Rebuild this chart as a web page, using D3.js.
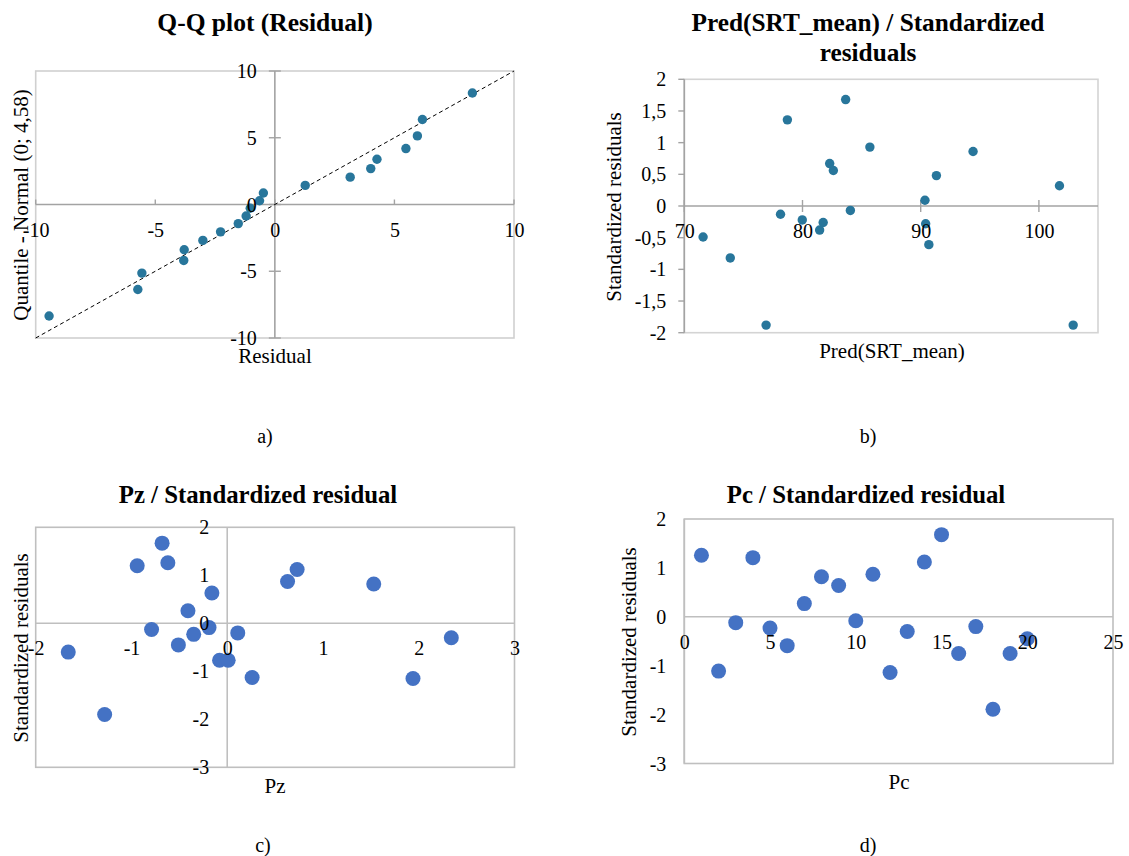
<!DOCTYPE html>
<html><head><meta charset="utf-8">
<script src="https://cdn.jsdelivr.net/npm/d3@7"></script>
<style>
body{margin:0;background:#fff}
</style>
</head><body>
<svg id="chart" width="1129" height="856" font-family="'Liberation Serif', 'Times New Roman', Times, serif"></svg>
<script>
// ---- Panel a: Q-Q plot ----
const qqResidual = [-9.44,-5.73,-5.56,-3.81,-3.79,-3.01,-2.27,-1.53,-1.20,-1.03,-0.64,-0.48,1.27,3.15,4.01,4.27,5.48,5.96,6.17,8.26];
const qqQuantile = [-8.35,-6.37,-5.14,-4.19,-3.39,-2.69,-2.05,-1.43,-0.86,-0.28,0.28,0.86,1.43,2.05,2.69,3.39,4.19,5.14,6.37,8.35];
const qqTicks = [-10,-5,0,5,10];
const qqLine = [-10,10];

// ---- Panel b: Pred(SRT_mean) / standardized residuals ----
const predSRT = [71.59,73.89,76.92,78.14,78.72,79.98,81.45,81.75,82.30,82.61,83.65,84.05,85.70,90.36,90.42,90.69,91.33,94.43,101.74,102.90];
const predStdRes = [-0.49,-0.82,-1.88,-0.13,1.36,-0.22,-0.38,-0.26,0.67,0.56,1.68,-0.07,0.93,0.09,-0.28,-0.61,0.48,0.86,0.32,-1.88];
const predXTicks = [70,80,90,100];
const predYTicks = [-2,-1.5,-1,-0.5,0,0.5,1,1.5,2];

// ---- Panel c: Pz / standardized residual ----
const pz = [-1.66,-1.28,-0.94,-0.79,-0.68,-0.62,-0.51,-0.41,-0.35,-0.19,-0.16,-0.08,0.01,0.11,0.26,0.63,0.73,1.53,1.94,2.34];
const pzStdRes = [-0.60,-1.90,1.20,-0.13,1.67,1.26,-0.45,0.26,-0.23,-0.09,0.63,-0.77,-0.77,-0.20,-1.13,0.87,1.12,0.82,-1.15,-0.30];
const pzTicks = [-2,-1,0,1,2,3];
const stdResTicks = [-3,-2,-1,0,1,2];

// ---- Panel d: Pc / standardized residual ----
const pc = [1,2,3,4,5,6,7,8,9,10,11,12,13,14,15,16,17,18,19,20];
const pcStdRes = [1.26,-1.11,-0.12,1.21,-0.23,-0.59,0.27,0.82,0.64,-0.08,0.87,-1.14,-0.30,1.12,1.68,-0.75,-0.20,-1.89,-0.75,-0.45];
const pcTicks = [0,5,10,15,20,25];

const FONT = "'Liberation Serif', 'Times New Roman', Times, serif";
const fmt = d => String(d).replace('.', ',');
const svg = d3.select("#chart");

const panels = [
  {xs:qqResidual, ys:qqQuantile, xt:qqTicks, yt:qqTicks, xd:[-10,10], yd:[-10,10],
   box:[35.7,514,71,338], frame:"#d0d0d0", axis:"#a3a3a3", yAxisAt:0,
   yTicks:[-6,6], xTicks:[-5,0], diag:true, r:4.7, color:"#28769b",
   title:["Q-Q plot (Residual)"], tx:265, ty:[31], tsize:25.5,
   xTitle:"Residual", xtx:275, xty:363, yTitle:"Quantile - Normal (0; 4,58)", ytx:28, yty:205,
   cap:"a)", cx:265, cy:443},
  {xs:predSRT, ys:predStdRes, xt:predXTicks, yt:predYTicks, xd:[70,105], yd:[-2,2],
   box:[684.3,1098,79.3,332.7], frame:"#d4d4d4", axis:"#a3a3a3", yAxisAt:70,
   yTicks:[-6,0], xTicks:[-6,6], r:4.7, color:"#28769b",
   title:["Pred(SRT_mean) / Standardized","residuals"], tx:868, ty:[31,61], tsize:25.3,
   xTitle:"Pred(SRT_mean)", xtx:892, xty:358, yTitle:"Standardized residuals", ytx:621, yty:207,
   cap:"b)", cx:868, cy:443},
  {xs:pz, ys:pzStdRes, xt:pzTicks, yt:stdResTicks, xd:[-2,3], yd:[-3,2],
   box:[35.7,514.5,527.3,767.3], frame:"#bfbfbf", axis:"#bfbfbf", yAxisAt:0,
   r:7.5, color:"#4472c4",
   title:["Pz / Standardized residual"], tx:258, ty:[503], tsize:24.8,
   xTitle:"Pz", xtx:275, xty:793, yTitle:"Standardized residuals", ytx:28, yty:648,
   cap:"c)", cx:263, cy:852},
  {xs:pc, ys:pcStdRes, xt:pcTicks, yt:stdResTicks, xd:[0,25], yd:[-3,2],
   box:[684.3,1113,519,763.5], frame:"#bfbfbf", axis:"#bfbfbf", yAxisAt:0,
   r:7.5, color:"#4472c4",
   title:["Pc / Standardized residual"], tx:866, ty:[503], tsize:24.8,
   xTitle:"Pc", xtx:899, xty:789, yTitle:"Standardized residuals", ytx:636, yty:642,
   cap:"d)", cx:868, cy:852}
];

panels.forEach(p => {
  const [x0,x1,y0,y1] = p.box;
  const g = svg.append("g").attr("font-family", FONT);
  const x = d3.scaleLinear().domain(p.xd).range([x0,x1]);
  const y = d3.scaleLinear().domain(p.yd).range([y1,y0]);

  g.append("rect").attr("x",x0).attr("y",y0).attr("width",x1-x0).attr("height",y1-y0)
    .attr("fill","none").attr("stroke",p.frame).attr("stroke-width",1.6);

  const ax = x(p.yAxisAt), ay = y(0);
  g.append("line").attr("x1",x0).attr("x2",x1).attr("y1",ay).attr("y2",ay)
    .attr("stroke",p.axis).attr("stroke-width",1.6);
  g.append("line").attr("x1",ax).attr("x2",ax).attr("y1",y0).attr("y2",y1)
    .attr("stroke",p.axis).attr("stroke-width",1.6);

  if (p.yTicks) {
    g.selectAll(".yt").data(p.yt).join("line")
      .attr("x1",ax+p.yTicks[0]).attr("x2",ax+p.yTicks[1])
      .attr("y1",d=>y(d)).attr("y2",d=>y(d))
      .attr("stroke",p.axis).attr("stroke-width",1.4);
  }
  if (p.xTicks) {
    g.selectAll(".xt").data(p.xt).join("line")
      .attr("x1",d=>x(d)).attr("x2",d=>x(d))
      .attr("y1",ay+p.xTicks[0]).attr("y2",ay+p.xTicks[1])
      .attr("stroke",p.axis).attr("stroke-width",1.4);
  }

  if (p.diag) {
    g.append("line").attr("x1",x(qqLine[0])).attr("y1",y(qqLine[0]))
      .attr("x2",x(qqLine[1])).attr("y2",y(qqLine[1]))
      .attr("stroke","#000").attr("stroke-width",1).attr("stroke-dasharray","4,3");
  }

  g.selectAll("circle").data(p.xs.map((v,i)=>[v,p.ys[i]])).join("circle")
    .attr("cx",d=>x(d[0])).attr("cy",d=>y(d[1])).attr("r",p.r).attr("fill",p.color);

  const xa = g.append("g").attr("transform",`translate(0,${ay})`)
    .call(d3.axisBottom(x).tickValues(p.xt).tickFormat(fmt).tickSize(0));
  xa.select(".domain").remove();
  xa.attr("font-size",20).attr("font-family",FONT);
  xa.selectAll("text").attr("y",32).attr("dy",null).attr("fill","#000");

  const ya = g.append("g").attr("transform",`translate(${ax},0)`)
    .call(d3.axisLeft(y).tickValues(p.yt).tickFormat(fmt).tickSize(0).tickPadding(18));
  ya.select(".domain").remove();
  ya.attr("font-size",20).attr("font-family",FONT);
  ya.selectAll("text").attr("dy","0.33em").attr("fill","#000");

  p.title.forEach((t,i) => {
    g.append("text").attr("x",p.tx).attr("y",p.ty[i]).attr("text-anchor","middle")
      .attr("font-size",p.tsize).attr("font-weight","bold").text(t);
  });
  g.append("text").attr("x",p.xtx).attr("y",p.xty).attr("text-anchor","middle")
    .attr("font-size",21).text(p.xTitle);
  g.append("text").attr("transform",`translate(${p.ytx},${p.yty}) rotate(-90)`)
    .attr("text-anchor","middle").attr("font-size",21).text(p.yTitle);
  g.append("text").attr("x",p.cx).attr("y",p.cy).attr("text-anchor","middle")
    .attr("font-size",20).text(p.cap);
});
</script>
</body></html>
